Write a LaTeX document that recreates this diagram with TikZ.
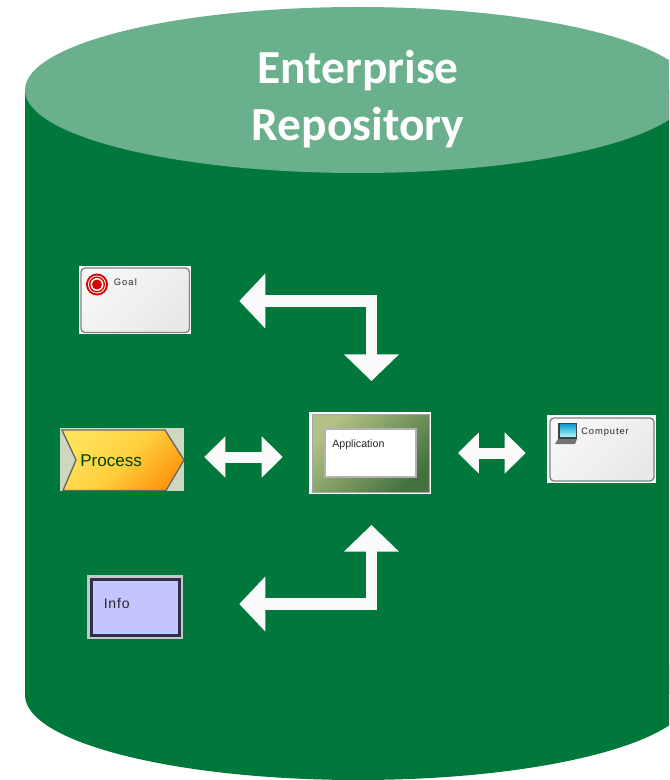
\documentclass[tikz,border=0pt]{standalone}
\usepackage{fontspec}
\setmainfont{Liberation Sans}
\newfontfamily\titlefont{Carlito}[Scale=1]
\usetikzlibrary{arrows.meta,shapes.geometric}
\definecolor{repoGreen}{HTML}{00783C}
\definecolor{lidGreen}{HTML}{6AB08C}
\definecolor{arrowWhite}{HTML}{FAFAFA}
\definecolor{procLight}{HTML}{FFE258}
\definecolor{procMid}{HTML}{FFD040}
\definecolor{procDark}{HTML}{FF9A10}
\definecolor{procBack}{HTML}{CDD8BE}
\definecolor{appLight}{HTML}{B4C184}
\definecolor{appDark}{HTML}{44723F}
\definecolor{infoFill}{HTML}{C4C4FF}
\definecolor{infoEdge}{HTML}{30304A}
\tikzset{
  blockarrow/.style={draw=arrowWhite,line width=8.25pt,line join=miter,
    {Triangle[length=15.75pt,width=30pt,fill=arrowWhite]}-{Triangle[length=15.75pt,width=30pt,fill=arrowWhite]}},
  elbowarrow/.style={draw=arrowWhite,line width=8.6pt,line join=miter,
    {Triangle[length=19.5pt,width=40pt,fill=arrowWhite]}-{Triangle[length=20pt,width=40pt,fill=arrowWhite]}},
  whitebase/.style={rectangle,fill=white,inner sep=0pt},
  softbox/.style={draw=black!50,line width=1pt,rounded corners=3pt,top color=white!97!black,bottom color=black!9,shading angle=45},
  smalllabel/.style={inner sep=0pt,anchor=west,text=black!85},
  titletext/.style={inner sep=0pt,text=white,font=\titlefont\bfseries\fontsize{35.6}{38}\selectfont}
}
\begin{document}
\begin{tikzpicture}[x=0.75pt,y=-0.75pt]
\useasboundingbox (0,0) rectangle (669,780);
\clip (0,0) rectangle (669,780);
% cylinder
\fill[repoGreen] (358,695) ellipse [x radius=333,y radius=85];
\fill[repoGreen] (25,90) rectangle (691,695);
\fill[lidGreen] (358,90) ellipse [x radius=333,y radius=83];
\node[titletext] (t1) at (358,71) {Enterprise};
\node[titletext] (t2) at (358,128) {Repository};

% Goal
\node[whitebase,minimum width=84pt,minimum height=51pt] (goal) at (135,300) {};
\shade[softbox] (81,268) rectangle (189.5,332.5);
\fill[red!85!black] (97,284.5) circle (11);
\fill[white] (97,284.5) circle (9);
\fill[red!85!black] (97,284.5) circle (8);
\fill[white] (97,284.5) circle (6.5);
\fill[red!85!black] (97,284.5) circle (5);
\node[smalllabel,font=\fontsize{7}{8}\selectfont\addfontfeature{LetterSpace=12}] (goaltext) at (113.5,282) {Goal};

% Process
\node[rectangle,fill=procBack,minimum width=93pt,minimum height=47.25pt,inner sep=0pt] (process) at (122,459.5) {};
\shade[draw=black!60,line width=1pt,top color=procLight,bottom color=procDark,middle color=procMid,shading angle=45]
  (62,430) -- (165,430) -- (184,460) -- (166,490.5) -- (63,490.5) -- (76,460) -- cycle;
\node[inner sep=0pt,anchor=west,text=black!75!green,font=\fontsize{12.8}{14}\selectfont] (processtext) at (80,461) {Process};

% Application
\node[whitebase,minimum width=91.5pt,minimum height=61.5pt] (app) at (370,453) {};
\shade[draw=black!35,line width=0.75pt,top color=appLight,bottom color=appDark,shading angle=45]
  (312,414) rectangle (429,492);
\node[draw=black!30,fill=white,line width=1.2pt,minimum width=68pt,minimum height=36pt,inner sep=0pt] (appinner) at (370.5,453) {};
\node[smalllabel,font=\fontsize{8}{9}\selectfont] (apptext) at (332,444.5) {Application};

% Computer
\node[whitebase,minimum width=81.75pt,minimum height=51pt] (computer) at (601.5,449) {};
\shade[softbox] (550,418) rectangle (654,481);
\fill[black!55] (558,439) -- (577,439) -- (575,444) -- (555,444) -- cycle;
\shade[draw=black!75,line width=0.8pt,top color=cyan!75!blue!80!black,bottom color=cyan!25] (559,423.5) rectangle (576.5,438);
\node[smalllabel,font=\fontsize{7}{8}\selectfont\addfontfeature{LetterSpace=10}] (computertext) at (581,432) {Computer};

% Info
\node[rectangle,fill=black!22,minimum width=72pt,minimum height=48pt,inner sep=0pt] (info) at (135,607) {};
\node[draw=infoEdge,fill=infoFill,line width=1.6pt,minimum width=66pt,minimum height=42pt,inner sep=0pt] (infoinner) at (135.5,607.5) {};
\node[smalllabel,font=\fontsize{10.5}{12}\selectfont\addfontfeature{LetterSpace=6}] (infotext) at (103.5,603.5) {Info};

% arrows
\draw[elbowarrow,shorten <=36pt,shorten >=23pt] (goal.east |- 0,301) -| ([xshift=1.1pt]app.north);
\draw[elbowarrow,shorten <=42pt,shorten >=23pt] (info.east |- 0,604) -| ([xshift=1.1pt]app.south);
\draw[blockarrow,shorten <=15pt,shorten >=19.5pt] (process.east |- 0,457) -- (app.west |- 0,457);
\draw[blockarrow,shorten <=20pt,shorten >=15.75pt] (app.east |- 0,453) -- (computer.west |- 0,453);
\end{tikzpicture}
\end{document}
